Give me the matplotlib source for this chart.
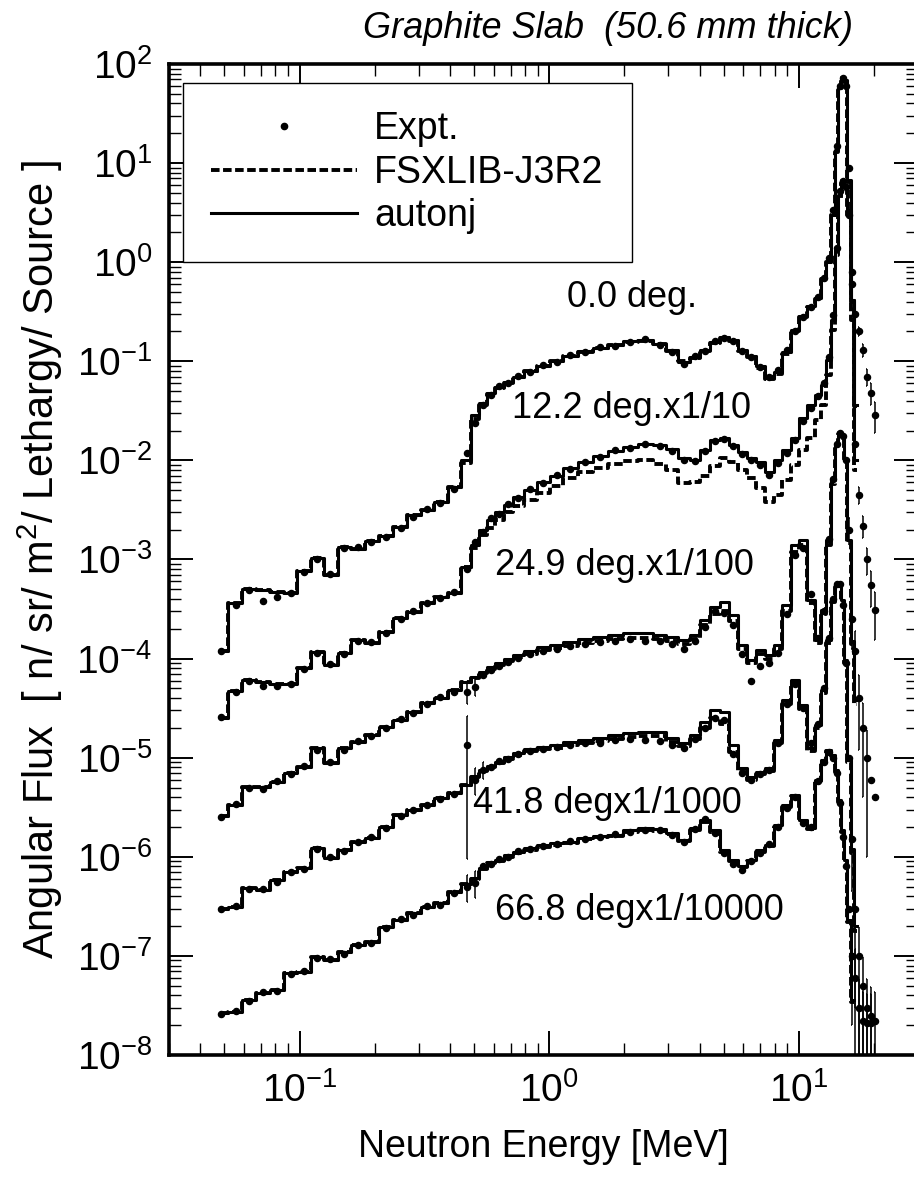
import numpy as np
import matplotlib
matplotlib.use("Agg")
import matplotlib.pyplot as plt
from matplotlib.lines import Line2D
from matplotlib.ticker import LogLocator, NullFormatter

plt.rcParams['font.family'] = ['Liberation Sans', 'DejaVu Sans']
plt.rcParams['mathtext.fontset'] = 'custom'
plt.rcParams['mathtext.rm'] = 'Liberation Sans'
plt.rcParams['mathtext.it'] = 'Liberation Sans:italic'

# energy grid [MeV]: coarse unfolding bins below 0.45 MeV, fine bins above
e_low = [0.0483, 0.0555, 0.0625, 0.0711, 0.0809, 0.092, 0.104, 0.118, 0.133,
         0.151, 0.171, 0.194, 0.221, 0.254, 0.286, 0.325, 0.366, 0.417]
e_high = [0.47, 0.506, 0.545, 0.586, 0.631, 0.685, 0.752, 0.839, 0.946, 1.07,
          1.21, 1.39, 1.6, 1.84, 2.11, 2.42, 2.78, 3.1, 3.47, 3.84,
          4.21, 4.61, 5.01, 5.45, 5.92, 6.43, 6.98, 7.59, 8.24, 8.95,
          9.64, 10.4, 11.2, 11.9, 12.6, 13.2, 13.7, 14.2, 14.6, 15.0,
          15.4, 15.9, 16.3, 16.8, 17.4, 18.0, 18.7, 19.4, 20.1]

angles = ["0.0", "12.2", "24.9", "41.8", "66.8"]
scales = [1.0, 0.1, 0.01, 1e-3, 1e-4]
nan = np.nan

# ---- 0.0 deg ----
calc_low_00 = [1.2e-4, 3.6e-4, 5.0e-4, 4.9e-4, 4.7e-4, 4.6e-4, 7.6e-4, 1.04e-3, 7.0e-4,
               1.34e-3, 1.28e-3, 1.54e-3, 1.73e-3, 2.13e-3, 2.8e-3, 3.16e-3, 3.8e-3, 5.4e-3]
autonj_00 = [0.0101, 0.0287, 0.038, 0.048, 0.055, 0.062, 0.0695, 0.080, 0.090, 0.101,
             0.113, 0.127, 0.136, 0.146, 0.160, 0.164, 0.150, 0.130, 0.098, 0.110,
             0.130, 0.157, 0.176, 0.164, 0.130, 0.113, 0.090, 0.068, 0.078, 0.124,
             0.207, 0.286, 0.361, 0.435, 0.69, 1.0, 3.0, 13.5, 57, 74,
             69, 6.8, 0.42, 0.036, nan, nan, nan, nan, nan]
fsx_00 = [0.0095, 0.026, 0.036, 0.047, 0.054, 0.061, 0.069, 0.079, 0.089, 0.100,
          0.112, 0.125, 0.135, 0.145, 0.158, 0.162, 0.148, 0.128, 0.100, 0.108,
          0.127, 0.152, 0.170, 0.160, 0.128, 0.110, 0.086, 0.066, 0.075, 0.118,
          0.20, 0.28, 0.35, 0.43, 0.68, 1.0, 3.0, 13, 55, 72,
          66, 6.5, 0.4, 0.035, nan, nan, nan, nan, nan]
expt_00 = [1.2e-4, 3.5e-4, 4.9e-4, 3.8e-4, 4.2e-4, 4.6e-4, 7.4e-4, 1.0e-3, 7.2e-4,
           1.3e-3, 1.35e-3, 1.5e-3, 1.7e-3, 2.1e-3, 2.7e-3, 3.2e-3, 3.7e-3, 5.2e-3,
           0.012, 0.024, 0.036, 0.046, 0.056, 0.060, 0.071, 0.078, 0.092, 0.099,
           0.115, 0.124, 0.139, 0.143, 0.158, 0.167, 0.146, 0.125, 0.095, 0.112,
           0.128, 0.16, 0.172, 0.16, 0.127, 0.11, 0.087, 0.07, 0.082, 0.13,
           0.2, 0.28, 0.35, 0.45, 0.7, 1.1, 3.4, 15, 60, 72,
           60, 9, 0.8, 0.3, 0.2, 0.13, 0.07, 0.048, 0.029]
err_e_00 = [17.4, 18.0, 18.7, 19.4, 20.1]
err_00 = [0.1, 0.15, 0.2, 0.25, 0.35]

# ---- 12.2 deg ----
calc_low_12 = [2.5e-4, 4.7e-4, 6.1e-4, 5.8e-4, 5.5e-4, 5.5e-4, 8.0e-4, 1.17e-3, 8.6e-4,
               1.14e-3, 1.54e-3, 1.44e-3, 1.85e-3, 2.57e-3, 2.95e-3, 3.63e-3, 4.2e-3, 4.6e-3]
autonj_12 = [8.4e-3, 0.014, 0.020, 0.025, 0.030, 0.0355, 0.043, 0.050, 0.060, 0.070,
             0.084, 0.096, 0.11, 0.124, 0.136, 0.146, 0.143, 0.13, 0.106, 0.101,
             0.127, 0.161, 0.168, 0.143, 0.122, 0.106, 0.096, 0.076, 0.101, 0.127,
             0.168, 0.268, 0.36, 0.46, 0.58, 1.03, 2.6, 13.3, 48, 68,
             60, 34, 4.2, 0.1, nan, nan, nan, nan, nan]
fsx_12 = [8.4e-3, 0.013, 0.0177, 0.021, 0.025, 0.030, 0.0347, 0.040, 0.047, 0.055,
          0.066, 0.076, 0.084, 0.092, 0.099, 0.101, 0.092, 0.080, 0.059, 0.060,
          0.070, 0.088, 0.106, 0.096, 0.080, 0.066, 0.053, 0.038, 0.045, 0.063,
          0.090, 0.127, 0.168, 0.256, 0.36, 0.73, 2.07, 11.8, 42, 63,
          57, 30, 2.6, 0.08, nan, nan, nan, nan, nan]
expt_12 = [2.6e-4, 4.6e-4, 6.0e-4, 5.3e-4, 5.3e-4, 5.6e-4, 7.8e-4, 1.15e-3, 8.8e-4,
           1.1e-3, 1.5e-3, 1.47e-3, 1.8e-3, 2.5e-3, 3.0e-3, 3.6e-3, 4.1e-3, 4.7e-3,
           8.0e-3, 0.015, 0.019, 0.026, 0.029, 0.036, 0.042, 0.051, 0.059, 0.071,
           0.082, 0.097, 0.108, 0.126, 0.133, 0.148, 0.14, 0.125, 0.10, 0.098,
           0.125, 0.158, 0.165, 0.14, 0.115, 0.10, 0.09, 0.072, 0.095, 0.12,
           0.16, 0.25, 0.34, 0.45, 0.6, 1.1, 2.9, 14, 52, 66,
           58, 30, 6.0, 0.148, 0.045, 0.022, 0.010, 5.5e-3, 3.1e-3]
err_e_12 = [16.8, 17.4, 18.0, 18.7, 19.4, 20.1]
err_12 = [0.15, 0.2, 0.25, 0.3, 0.4, 0.5]

# ---- 24.9 deg ----
calc_low_24 = [2.6e-4, 3.3e-4, 5.1e-4, 5.1e-4, 5.7e-4, 7.0e-4, 8.1e-4, 1.25e-3, 8.8e-4,
               1.25e-3, 1.44e-3, 1.7e-3, 2.04e-3, 2.4e-3, 2.9e-3, 3.6e-3, 4.0e-3, 4.8e-3]
autonj_24 = [5.8e-3, 6.5e-3, 7.3e-3, 8.2e-3, 9.0e-3, 9.9e-3, 0.0109, 0.0119, 0.0131, 0.0137,
             0.0147, 0.0158, 0.0165, 0.0173, 0.0181, 0.0181, 0.0173, 0.0165, 0.0154, 0.0173,
             0.0245, 0.033, 0.037, 0.0275, 0.0137, 9.7e-3, 0.0122, 0.0109, 0.0137, 0.035,
             0.14, 0.157, 0.039, 0.0154, 0.031, 0.157, 0.63, 1.43, 1.94, 1.8,
             1.01, 0.157, 0.015, 3.8e-3, nan, nan, nan, nan, nan]
fsx_24 = [5.8e-3, 6.4e-3, 7.1e-3, 7.9e-3, 8.6e-3, 9.4e-3, 0.0103, 0.0111, 0.0121, 0.0127,
          0.0135, 0.0143, 0.0149, 0.0156, 0.0162, 0.0163, 0.0157, 0.0150, 0.0140, 0.0158,
          0.022, 0.028, 0.030, 0.024, 0.0125, 9.0e-3, 0.0110, 9.8e-3, 0.0125, 0.030,
          0.12, 0.14, 0.036, 0.0145, 0.028, 0.14, 0.58, 1.35, 1.85, 1.75,
          0.98, 0.15, 0.014, 3.5e-3, nan, nan, nan, nan, nan]
expt_24 = [2.5e-4, 3.4e-4, 5.0e-4, 4.8e-4, 5.8e-4, 6.8e-4, 8.3e-4, 1.2e-3, 9.0e-4,
           1.2e-3, 1.46e-3, 1.65e-3, 2.0e-3, 2.45e-3, 2.85e-3, 3.5e-3, 4.1e-3, 4.6e-3,
           4.6e-3, 5.2e-3, 6.8e-3, 7.6e-3, 8.5e-3, 9.2e-3, 0.0101, 0.0110, 0.0118, 0.0126,
           0.0133, 0.0140, 0.0147, 0.0152, 0.0158, 0.0150, 0.0149, 0.0139, 0.0125, 0.0150,
           0.021, 0.030, 0.029, 0.022, 0.011, 6.0e-3, 8.5e-3, 9.0e-3, 0.0115, 0.028,
           0.11, 0.13, 0.045, 0.016, 0.030, 0.16, 0.65, 1.45, 1.9, 1.75,
           1.0, 0.2, 0.025, 0.012, 4.0e-3, 2.0e-3, 1.0e-3, 6.0e-4, 4.0e-4]
err_e_24 = [0.47, 0.506, 15.9, 16.3, 16.8, 17.4, 18.0, 18.7]
err_24 = [0.25, 0.2, 0.3, 0.5, 0.6, 0.7, 0.8, 0.9]

# ---- 41.8 deg ----
calc_low_41 = [3.0e-4, 3.1e-4, 4.8e-4, 4.6e-4, 5.8e-4, 7.0e-4, 7.7e-4, 1.23e-3, 9.7e-4,
               1.17e-3, 1.41e-3, 1.55e-3, 2.0e-3, 2.64e-3, 2.96e-3, 3.33e-3, 3.9e-3, 4.4e-3]
autonj_41 = [5.3e-3, 6.5e-3, 7.5e-3, 8.2e-3, 9.1e-3, 0.0102, 0.0111, 0.0122, 0.0128, 0.0134,
             0.0144, 0.0151, 0.0158, 0.0169, 0.0177, 0.0182, 0.0182, 0.0158, 0.0141, 0.0169,
             0.0229, 0.030, 0.029, 0.0134, 7.9e-3, 6.4e-3, 7.2e-3, 7.9e-3, 0.015, 0.038,
             0.061, 0.034, 0.0125, 0.0214, 0.048, 0.154, 0.39, 0.55, 0.58, 0.39,
             0.097, 9.5e-3, 1.2e-3, 2e-4, nan, nan, nan, nan, nan]
fsx_41 = [5.3e-3, 6.4e-3, 7.3e-3, 8.0e-3, 8.8e-3, 9.8e-3, 0.0106, 0.0116, 0.0121, 0.0126,
          0.0135, 0.0141, 0.0147, 0.0156, 0.0163, 0.0167, 0.0166, 0.0145, 0.0130, 0.0155,
          0.020, 0.025, 0.022, 0.0115, 7.2e-3, 6.0e-3, 6.8e-3, 7.4e-3, 0.014, 0.035,
          0.056, 0.031, 0.0118, 0.020, 0.045, 0.145, 0.37, 0.53, 0.56, 0.37,
          0.09, 9.0e-3, 1.1e-3, 1.8e-4, nan, nan, nan, nan, nan]
expt_41 = [3.0e-4, 3.2e-4, 4.7e-4, 4.7e-4, 5.6e-4, 7.1e-4, 7.6e-4, 1.2e-3, 1.0e-3,
           1.15e-3, 1.4e-3, 1.6e-3, 1.95e-3, 2.6e-3, 3.0e-3, 3.3e-3, 3.8e-3, 4.3e-3,
           0.0135, 6.0e-3, 7.6e-3, 8.0e-3, 9.3e-3, 9.8e-3, 0.0108, 0.0118, 0.0122, 0.0128,
           0.0135, 0.0140, 0.0142, 0.0150, 0.0155, 0.0150, 0.0148, 0.0135, 0.0125, 0.0155,
           0.020, 0.025, 0.024, 0.011, 7.0e-3, 6.0e-3, 6.8e-3, 7.5e-3, 0.014, 0.035,
           0.055, 0.032, 0.014, 0.022, 0.05, 0.16, 0.40, 0.56, 0.57, 0.35,
           0.09, 0.01, 1.5e-3, 3e-4, 1e-4, 5e-5, 3e-5, 2.5e-5, 2.2e-5]
err_e_41 = [0.47, 0.506, 0.545, 16.3, 16.8, 17.4, 18.0, 18.7, 19.4, 20.1]
err_41 = [0.93, 0.3, 0.2, 0.7, 0.9, 0.95, 0.95, 0.95, 0.95, 0.95]

# ---- 66.8 deg ----
calc_low_66 = [2.65e-4, 2.7e-4, 3.6e-4, 4.2e-4, 4.5e-4, 6.7e-4, 6.9e-4, 9.8e-4, 9.1e-4,
               1.09e-3, 1.29e-3, 1.38e-3, 1.96e-3, 2.3e-3, 2.7e-3, 3.1e-3, 3.4e-3, 4.4e-3]
autonj_66 = [5.3e-3, 6.1e-3, 7.7e-3, 8.9e-3, 9.3e-3, 0.0104, 0.0112, 0.0123, 0.0132, 0.0138,
             0.0141, 0.0155, 0.0162, 0.0166, 0.0186, 0.0195, 0.019, 0.0174, 0.0148, 0.0195,
             0.0235, 0.0186, 0.0117, 9.3e-3, 8.1e-3, 9.3e-3, 0.0117, 0.0132, 0.021, 0.033,
             0.042, 0.0235, 0.0195, 0.060, 0.095, 0.12, 0.106, 0.075, 0.037, 0.0186,
             9.3e-3, 2.3e-3, 3.6e-4, nan, nan, nan, nan, nan, nan]
fsx_66 = [5.3e-3, 6.0e-3, 7.5e-3, 8.6e-3, 9.0e-3, 0.0100, 0.0108, 0.0118, 0.0127, 0.0133,
          0.0137, 0.0150, 0.0157, 0.0161, 0.0180, 0.0188, 0.0183, 0.0168, 0.0143, 0.0188,
          0.0226, 0.0180, 0.0112, 9.0e-3, 7.8e-3, 9.0e-3, 0.0113, 0.0128, 0.020, 0.032,
          0.041, 0.0228, 0.019, 0.058, 0.092, 0.117, 0.103, 0.072, 0.036, 0.018,
          9.0e-3, 2.2e-3, 3.4e-4, nan, nan, nan, nan, nan, nan]
expt_66 = [2.6e-4, 2.8e-4, 3.5e-4, 4.3e-4, 4.4e-4, 6.5e-4, 7.0e-4, 9.6e-4, 9.3e-4,
           1.05e-3, 1.3e-3, 1.35e-3, 1.9e-3, 2.35e-3, 2.6e-3, 3.2e-3, 3.3e-3, 4.3e-3,
           5.0e-3, 5.5e-3, 8.0e-3, 8.5e-3, 9.6e-3, 0.010, 0.0115, 0.012, 0.0128, 0.0135,
           0.0145, 0.015, 0.0158, 0.0170, 0.018, 0.0185, 0.0188, 0.0165, 0.0140, 0.019,
           0.024, 0.0175, 0.0110, 8.5e-3, 7.4e-3, 9.0e-3, 0.011, 0.0135, 0.02, 0.031,
           0.040, 0.022, 0.02, 0.058, 0.09, 0.115, 0.10, 0.07, 0.035, 0.016,
           8e-3, 3e-3, 1e-3, 6e-4, 3e-4, 2.2e-4, 2.1e-4, 2.1e-4, nan]
err_e_66 = [0.47, 0.506, 16.3, 16.8, 17.4, 18.0, 18.7, 19.4]
err_66 = [0.3, 0.3, 0.8, 0.95, 0.95, 0.95, 0.95, 0.95]

calc_low = [calc_low_00, calc_low_12, calc_low_24, calc_low_41, calc_low_66]
autonj = [autonj_00, autonj_12, autonj_24, autonj_41, autonj_66]
fsx = [fsx_00, fsx_12, fsx_24, fsx_41, fsx_66]
expt = [expt_00, expt_12, expt_24, expt_41, expt_66]
err_e = [err_e_00, err_e_12, err_e_24, err_e_41, err_e_66]
err = [err_00, err_12, err_24, err_41, err_66]

energy = np.array(e_low + e_high)

fig = plt.figure(figsize=(9.14, 11.8), dpi=100)
ax = fig.add_axes([169 / 914, 1 - 1055 / 1180, (918 - 169) / 914, (1055 - 64) / 1180])
ax.set_xscale('log')
ax.set_yscale('log')

for i in range(len(angles)):
    s = scales[i]
    a = np.array(calc_low[i] + autonj[i]) * s
    f = np.array(calc_low[i] + fsx[i]) * s
    x = np.array(expt[i]) * s
    assert len(a) == len(energy) and len(f) == len(energy) and len(x) == len(energy)
    ax.plot(energy, a, drawstyle='steps-mid', color='k', lw=2.2)
    ax.plot(energy, f, drawstyle='steps-mid', color='k', lw=2.8, ls=(0, (2.2, 0.9)))
    ax.plot(energy, x, 'o', ms=4.4, color='k', mec='k')
    for ee, r in zip(err_e[i], err[i]):
        k = int(np.argmin(np.abs(energy - ee)))
        v = x[k]
        ax.vlines(energy[k], max(v * (1 - r), 1e-9), v * (1 + r), color='k', lw=1.1)
        ax.hlines([max(v * (1 - r), 1e-9), v * (1 + r)], energy[k] * 0.995, energy[k] * 1.005,
                  color='k', lw=1.1)

ax.set_xlim(0.03, 30)
ax.set_ylim(1e-8, 1e2)
ax.yaxis.set_major_locator(LogLocator(base=10, numticks=20))
ax.yaxis.set_minor_locator(LogLocator(base=10, subs=np.arange(2, 10), numticks=20))
ax.xaxis.set_minor_locator(LogLocator(base=10, subs=np.arange(2, 10), numticks=20))
ax.yaxis.set_minor_formatter(NullFormatter())
ax.xaxis.set_minor_formatter(NullFormatter())
ax.tick_params(which='both', direction='in', top=True, right=True, labelsize=28)
ax.tick_params(which='major', length=17, width=1.4, pad=12)
ax.tick_params(which='minor', length=8.5, width=1.0)
for sp in ax.spines.values():
    sp.set_linewidth(2.6)

# curve labels
ax.text(1.18, 0.353, "0.0 deg.", fontsize=26, va='baseline')
ax.text(0.711, 0.0268, "12.2 deg.x1/10", fontsize=26, va='baseline')
ax.text(0.608, 7.0e-4, "24.9 deg.x1/100", fontsize=26, va='baseline')
ax.text(0.497, 2.77e-6, "41.8 degx1/1000", fontsize=26, va='baseline')
ax.text(0.608, 2.3e-7, "66.8 degx1/10000", fontsize=26, va='baseline')

handles = [Line2D([], [], marker='o', ls='none', ms=4.5, color='k'),
           Line2D([], [], color='k', lw=2.8, ls=(0, (2.2, 0.9))),
           Line2D([], [], color='k', lw=2.2)]
leg = ax.legend(handles, ["Expt.", "FSXLIB-J3R2", "autonj"], loc='upper left',
                bbox_to_anchor=(0.0187, 0.9808), borderaxespad=0, fontsize=27,
                handlelength=3.9, handletextpad=0.45, labelspacing=0.2, borderpad=0.75,
                numpoints=1, fancybox=False, framealpha=1, edgecolor='k')
leg.get_frame().set_linewidth(1.0)

ax.set_xlabel("Neutron Energy [MeV]", fontsize=27, labelpad=14)
fig.text(40 / 914, 1 - 560 / 1180, "Angular Flux  [ n/ sr/ m$^2$/ Lethargy/ Source ]",
         rotation=90, ha='center', va='center', fontsize=30,
         family=['Liberation Sans Narrow', 'Liberation Sans'])
fig.text(853 / 914, 1 - 28 / 1180, "Graphite Slab  (50.6 mm thick)", style='italic',
         fontsize=26, ha='right', va='center')

fig.savefig("out.png", dpi=100)
